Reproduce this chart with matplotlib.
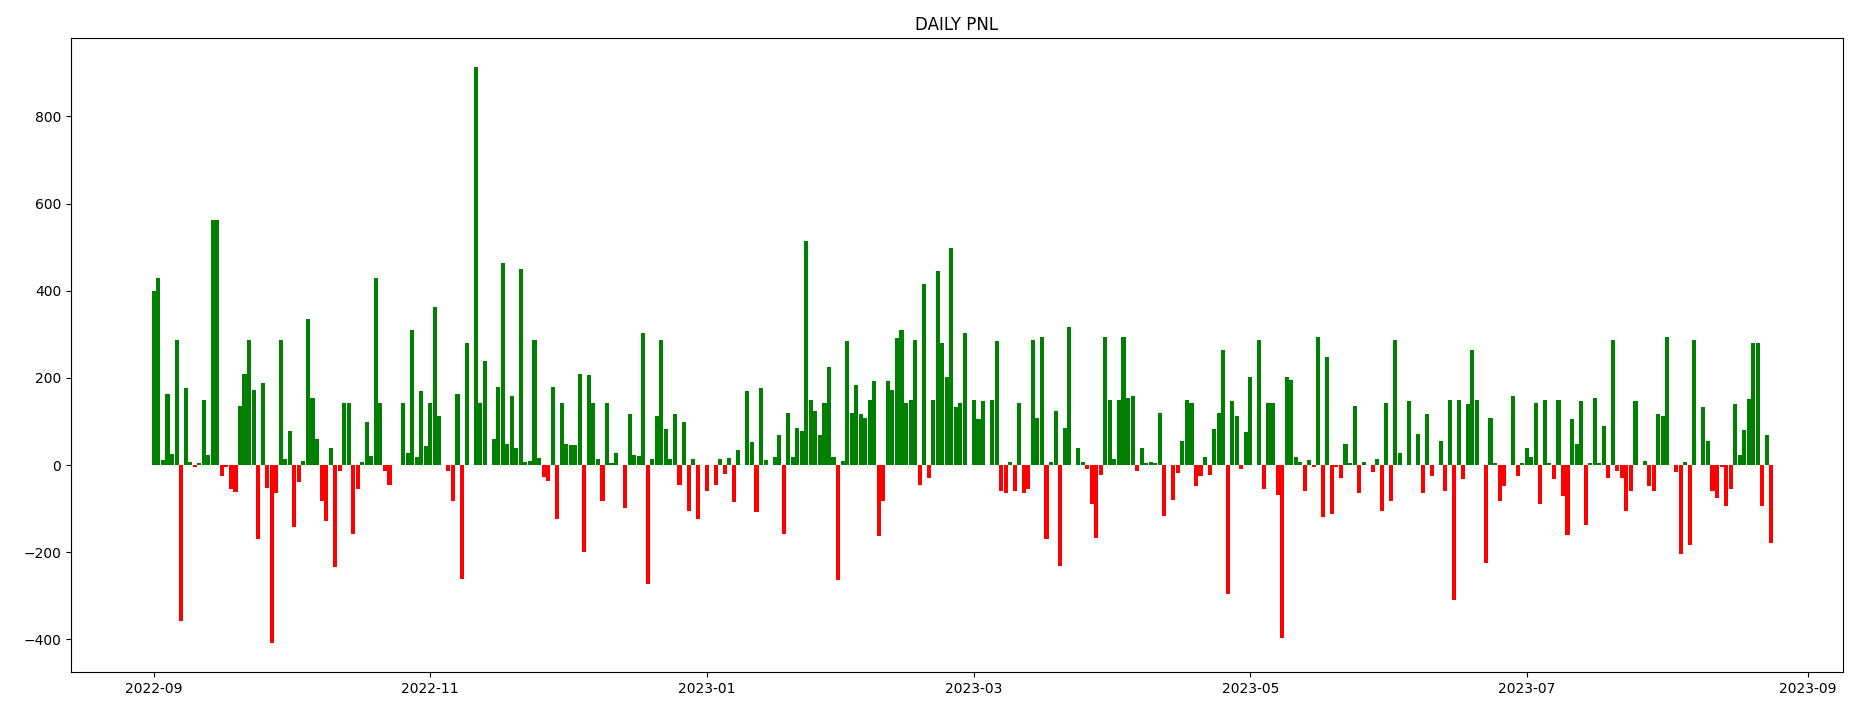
import matplotlib
matplotlib.use("Agg")
import matplotlib.pyplot as plt
import numpy as np
import pandas as pd

start_date = "2022-09-01"

pnl_2022_09 = [400, 430, 12, 162, 25, 287, -359, 177, 8, -5, 5, 150, 22, 563, 563, -26, -5, -56, -61, 135,
               210, 287, 173, -169, 188, -52, -409, -64, 287, 14]
pnl_2022_10 = [78, -143, -40, 10, 336, 154, 59, -83, -128, 40, -235, -14, 143, 143, -158, -56, 8, 98, 21, 430,
               143, -14, -45, 0, 0, 143, 28, 310, 19, 169, 44]
pnl_2022_11 = [143, 362, 113, 0, -14, -83, 162, -261, 279, 0, 914, 143, 238, 0, 59, 180, 464, 49, 158, 40,
               449, 7, 9, 287, 17, -28, -36, 180, -124, 143]
pnl_2022_12 = [49, 45, 45, 210, -200, 207, 143, 14, -83, 143, 5, 28, 0, -99, 117, 24, 21, 303, -273, 14,
               113, 287, 82, 14, 117, -45, 98, -105, 14, -124, 0]
pnl_2023_01 = [-60, 0, -45, 14, -21, 17, -86, 34, 0, 169, 52, -109, 177, 11, 0, 19, 68, -158, 120, 19,
               86, 79, 514, 150, 124, 68, 143, 226, 19, -265, 9]
pnl_2023_02 = [284, 120, 184, 117, 109, 150, 193, -163, -83, 193, 173, 291, 310, 143, 150, 287, -45, 415, -30, 150,
               446, 280, 203, 498, 132, 143, 303, 0]
pnl_2023_03 = [150, 105, 147, 0, 150, 284, -60, -64, 7, -60, 143, -64, -56, 287, 109, 294, -171, 8, 124, -231,
               86, 317, 0, 38, 7, -9, -90, -167, -24, 294, 150]
pnl_2023_04 = [14, 150, 294, 154, 158, -14, 40, 5, 7, 5, 120, -118, 0, -80, -19, 55, 150, 143, -49, -26,
               19, -24, 82, 120, 263, -296, 147, 113, -9, 75]
pnl_2023_05 = [203, 0, 287, -56, 143, 143, -68, -397, 203, 196, 19, 7, -60, 11, -5, 294, -120, 249, -113, -5,
               -30, 49, 5, 135, -64, 7, 0, -17, 14, -105, 143]
pnl_2023_06 = [-83, 287, 28, 0, 147, 0, 71, -64, 117, -26, 0, 55, -60, 150, -310, 150, -33, 139, 263, 150,
               0, -226, 108, 5, -83, -49, 0, 158, -26, 5]
pnl_2023_07 = [40, 19, 143, -90, 150, 5, -33, 150, -71, -160, 105, 49, 147, -137, 5, 154, 5, 89, -30, 287,
               -14, -30, -105, -60, 147, 0, 9, -49, -60, 117, 113]
pnl_2023_08 = [294, 0, -17, -205, 7, -183, 287, 0, 132, 55, -60, -75, -5, -94, -56, 139, 22, 80, 152, 280,
               280, -95, 68, -180]

pnl = np.array(pnl_2022_09 + pnl_2022_10 + pnl_2022_11 + pnl_2022_12 + pnl_2023_01 + pnl_2023_02 +
               pnl_2023_03 + pnl_2023_04 + pnl_2023_05 + pnl_2023_06 + pnl_2023_07 + pnl_2023_08, dtype=float)
dates = pd.date_range(start_date, periods=len(pnl), freq="D")

mask = pnl != 0
colors = np.where(pnl[mask] >= 0, "green", "red")

fig = plt.figure(figsize=(18.58, 7.07), dpi=100)
ax = fig.add_axes([71 / 1858, 1 - 672 / 707, (1843 - 71) / 1858, (672 - 38) / 707])
ax.bar(dates[mask], pnl[mask], color=colors, width=0.9)
t0 = pd.Timestamp(start_date)
ax.set_xlim(t0 - pd.Timedelta(days=18.3), t0 + pd.Timedelta(days=372.8))
ax.set_title("DAILY PNL")
fig.savefig("out.png", dpi=100)
